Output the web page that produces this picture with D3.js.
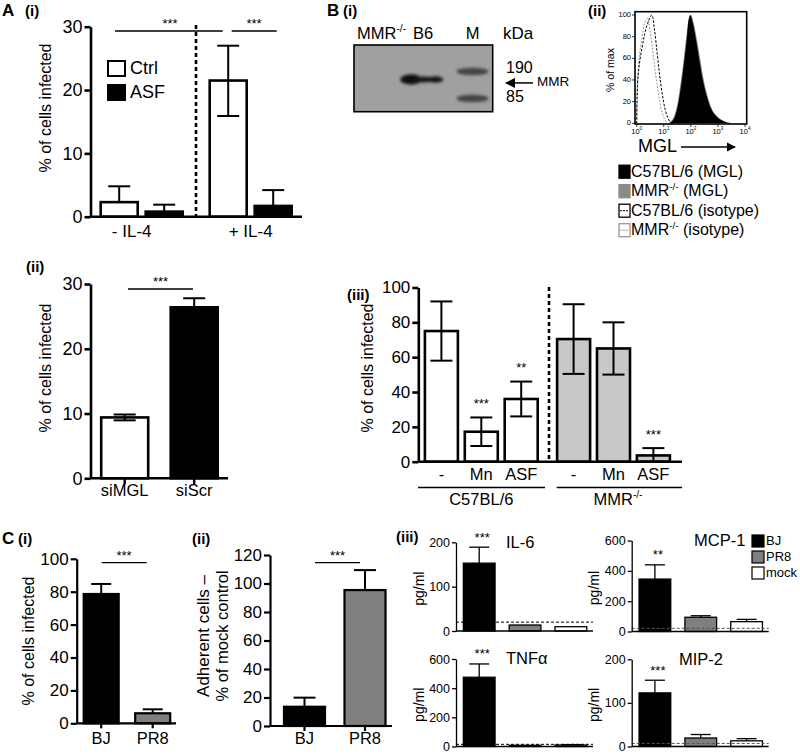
<!DOCTYPE html>
<html><head><meta charset="utf-8">
<script src="https://cdn.jsdelivr.net/npm/d3@7"></script>
<style>body{margin:0;background:#fff}svg{display:block}text{font-family:Arial,"Liberation Sans",sans-serif}</style>
</head><body><svg id="c" width="800" height="754"></svg>
<script>
// ================= DATA =================
// A(i)
const a1Groups = ["- IL-4", "+ IL-4"];
const a1Series = ["Ctrl", "ASF"];
const a1Ctrl = [2.3, 21.5];
const a1CtrlErrUp = [2.5, 5.5];
const a1CtrlErrDown = [0, 5.6];
const a1Asf = [0.8, 1.7];
const a1AsfErrUp = [1.1, 2.5];
const a1Ticks = [0, 10, 20, 30];
// A(ii)
const a2Cats = ["siMGL", "siScr"];
const a2Values = [9.4, 26.4];
const a2Err = [0.45, 1.4];
const a2Ticks = [0, 10, 20, 30];
// A(iii)
const a3Groups = ["C57BL/6", "MMR"];
const a3Treat = ["-", "Mn", "ASF"];
const a3C57 = [75, 17.2, 36];
const a3C57Err = [17, 8.2, 10];
const a3C57Stars = ["", "***", "**"];
const a3MMR = [70.4, 65, 3.6];
const a3MMRErr = [20, 15, 4.2];
const a3MMRStars = ["", "", "***"];
const a3Ticks = [0, 20, 40, 60, 80, 100];
// C(i)
const c1Cats = ["BJ", "PR8"];
const c1Values = [78.6, 6.1];
const c1Err = [6.1, 2.4];
const c1Ticks = [0, 20, 40, 60, 80, 100];
// C(ii)
const c2Cats = ["BJ", "PR8"];
const c2Values = [13.5, 95.4];
const c2Err = [6.4, 14];
const c2Ticks = [0, 20, 40, 60, 80, 100, 120];
// C(iii)
const c3Cats = ["BJ", "PR8", "mock"];
const il6 = [153, 13.5, 9.7], il6Err = [36, 0, 0], il6Limit = 20, il6Ticks = [0, 100, 200];
const tnf = [475, 8, 10], tnfErr = [91, 0, 3], tnfLimit = 15, tnfTicks = [0, 200, 400, 600];
const mcp1 = [346, 94, 65], mcp1Err = [94, 10, 15], mcp1Limit = 21, mcp1Ticks = [0, 200, 400, 600];
const mip2 = [123, 19.5, 13], mip2Err = [29, 8, 5], mip2Limit = 7, mip2Ticks = [0, 100, 200];
// B(i) blot
const blotLanes = ["MMR", "B6", "M"];
const markerKDa = [190, 85];
const mmrBandKDa = 150;
// B(ii) histograms: [log10 MGL, % of max]
const histB6MGL = [[1.2,0],[1.35,3],[1.48,12],[1.6,28],[1.73,52],[1.85,78],[1.93,97],[1.98,100],[2.08,92],[2.2,76],[2.33,56],[2.46,38],[2.6,24],[2.72,15],[2.85,9],[3.0,5],[3.15,2.5],[3.3,1],[3.5,0]];
const histMMRMGL = [[1.18,0],[1.33,4],[1.46,13],[1.58,30],[1.71,54],[1.83,80],[1.93,97],[2.0,100],[2.1,93],[2.22,78],[2.35,59],[2.47,41],[2.6,27],[2.72,17],[2.85,10],[3.0,6],[3.15,3],[3.35,1],[3.6,0]];
const histB6Iso = [[0,0],[0.03,35],[0.1,55],[0.2,70],[0.3,83],[0.4,92],[0.5,98],[0.56,100],[0.65,88],[0.75,66],[0.85,44],[0.95,26],[1.05,13],[1.15,5],[1.25,1],[1.35,0]];
const histMMRIso = [[0,0],[0.03,40],[0.1,62],[0.2,80],[0.3,93],[0.38,97],[0.45,92],[0.55,75],[0.65,55],[0.75,36],[0.85,20],[0.95,9],[1.05,3],[1.15,0]];
const bLegend = ["C57BL/6 (MGL)", "MMR (MGL)", "C57BL/6 (isotype)", "MMR (isotype)"];

// ================= HELPERS =================
const svg = d3.select("#c");
const defs = svg.append("defs");
defs.append("filter").attr("id","blur").append("feGaussianBlur").attr("stdDeviation",1.6);
defs.append("marker").attr("id","arr").attr("viewBox","0 0 10 10").attr("refX",9).attr("refY",5)
  .attr("markerWidth",7).attr("markerHeight",7).attr("orient","auto-start-reverse")
  .append("path").attr("d","M0,0L10,5L0,10z").attr("fill","#000");

function T(g, x, y, s, o = {}) {
  const t = g.append("text").attr("x", x).attr("y", y).text(s)
    .attr("font-size", o.size || 14).attr("text-anchor", o.anchor || "start")
    .attr("dominant-baseline", o.base || "middle").attr("fill", o.fill || "#000");
  if (o.bold) t.attr("font-weight", "bold");
  if (o.rotate) t.attr("transform", `rotate(-90,${x},${y})`);
  return t;
}
function supText(g, x, y, base, sup, rest, o = {}) {
  const fs = o.size || 14;
  const t = g.append("text").attr("x", x).attr("y", y).attr("font-size", fs)
    .attr("text-anchor", o.anchor || "start").attr("dominant-baseline", "middle");
  t.append("tspan").text(base);
  t.append("tspan").attr("dy", -fs * 0.35).attr("font-size", fs * 0.62).text(sup);
  if (rest) t.append("tspan").attr("dy", fs * 0.35).text(rest);
  return t;
}
function yAxis(scale, x, ticks, o) {
  const ax = d3.axisLeft(scale).tickValues(ticks).tickSize(o.tick || 6).tickSizeOuter(0).tickPadding(o.pad || 2);
  const g = svg.append("g").attr("transform", `translate(${x},0)`).call(ax);
  g.select(".domain").attr("stroke", "#000").attr("stroke-width", o.sw);
  g.selectAll(".tick line").attr("stroke", "#000").attr("stroke-width", o.sw);
  g.selectAll(".tick text").attr("font-size", o.fs).attr("font-family", 'Arial,"Liberation Sans",sans-serif').attr("fill", "#000");
  return g;
}
function hline(x1, x2, y, sw, o = {}) {
  const l = svg.append("line").attr("x1", x1).attr("x2", x2).attr("y1", y).attr("y2", y)
    .attr("stroke", o.color || "#000").attr("stroke-width", sw);
  if (o.dash) l.attr("stroke-dasharray", o.dash);
  return l;
}
function vline(x, y1, y2, sw, o = {}) {
  const l = svg.append("line").attr("x1", x).attr("x2", x).attr("y1", y1).attr("y2", y2)
    .attr("stroke", o.color || "#000").attr("stroke-width", sw);
  if (o.dash) l.attr("stroke-dasharray", o.dash);
  return l;
}
function bar(cx, w, y, v, fill, sw) {
  svg.append("rect").attr("x", cx - w / 2).attr("y", y(v)).attr("width", w).attr("height", y(0) - y(v))
    .attr("fill", fill).attr("stroke", "#000").attr("stroke-width", sw);
}
function err(cx, y, v, up, down, cap, sw) {
  if (up > 0) { vline(cx, y(v), y(v + up), sw); hline(cx - cap / 2, cx + cap / 2, y(v + up), sw); }
  if (down > 0) { vline(cx, y(v), y(v - down), sw); hline(cx - cap / 2, cx + cap / 2, y(v - down), sw); }
}

// ================= A(i) =================
T(svg, 2, 12, "A", {size: 17, bold: true});
T(svg, 25, 12, "(i)", {size: 15, bold: true});
{
  const y = d3.scaleLinear().domain([0, 30]).range([216.7, 26.7]);
  const gx = d3.scalePoint().domain(a1Groups).range([141.7, 250.7]);
  const sx = d3.scalePoint().domain(a1Series).range([-22.5, 22.5]);
  const w = 37;
  a1Groups.forEach((g, i) => {
    bar(gx(g) + sx("Ctrl"), w, y, a1Ctrl[i], "#fff", 2.6);
    bar(gx(g) + sx("ASF"), w, y, a1Asf[i], "#000", 2.6);
    err(gx(g) + sx("Ctrl"), y, a1Ctrl[i], a1CtrlErrUp[i], a1CtrlErrDown[i], 22, 2);
    err(gx(g) + sx("ASF"), y, a1Asf[i], a1AsfErrUp[i], 0, 22, 2);
    T(svg, gx(g) - 10 + i * 10, 233, g, {size: 17, anchor: "middle"});
  });
  yAxis(y, 90.5, a1Ticks, {sw: 2.6, fs: 18, tick: 6});
  hline(90.5, 302, y(0), 2.6);
  vline(196, 25, y(0), 2.6, {dash: "4,3"});
  T(svg, 47, 108, "% of cells infected", {size: 16, anchor: "middle", rotate: true});
  a1Series.forEach((s, i) => {
    const ly = 68.5 + i * 24;
    svg.append("rect").attr("x", 108).attr("y", ly - 7.5).attr("width", 17).attr("height", 15)
      .attr("fill", i ? "#000" : "#fff").attr("stroke", "#000").attr("stroke-width", 2);
    T(svg, 130, ly + 1, s, {size: 18});
  });
  hline(115, 222.7, 31, 1.3); T(svg, 170, 25, "***", {size: 13, anchor: "middle"});
  hline(231.7, 276.7, 31, 1.3); T(svg, 254, 25, "***", {size: 13, anchor: "middle"});
}

// ================= B(i) blot =================
T(svg, 327, 12, "B", {size: 17, bold: true});
T(svg, 343, 12, "(i)", {size: 15, bold: true});
{
  const lx = d3.scalePoint().domain(blotLanes).range([382, 472.5]);
  const ky = d3.scaleLog().domain([85, 190]).range([98.5, 71.5]);
  svg.append("rect").attr("x", 354).attr("y", 45).attr("width", 138.7).attr("height", 66.7)
    .attr("fill", "#a0a0a0").attr("stroke", "#000").attr("stroke-width", 1.6);
  const bg = svg.append("g").attr("filter", "url(#blur)");
  const by = ky(mmrBandKDa);
  bg.append("ellipse").attr("cx", lx("B6") - 16).attr("cy", by).attr("rx", 11).attr("ry", 5).attr("fill", "#080808");
  bg.append("ellipse").attr("cx", lx("B6") - 4).attr("cy", by).attr("rx", 10).attr("ry", 3).attr("fill", "#151515");
  bg.append("ellipse").attr("cx", lx("B6") + 8).attr("cy", by).attr("rx", 8).attr("ry", 3.2).attr("fill", "#151515");
  markerKDa.forEach(k => {
    bg.append("ellipse").attr("cx", lx("M")).attr("cy", ky(k)).attr("rx", 16).attr("ry", 3.8).attr("fill", "#444");
  });
  supText(svg, 357, 35, "MMR", "-/-", "", {size: 16.5});
  T(svg, 423, 35, "B6", {size: 16.5, anchor: "middle"});
  T(svg, lx("M"), 35, "M", {size: 16.5, anchor: "middle"});
  T(svg, 503, 35, "kDa", {size: 17});
  markerKDa.forEach(k => T(svg, 506, ky(k) - 3 + (k < 100 ? 2 : 0), String(k), {size: 16}));
  svg.append("line").attr("x1", 533).attr("x2", 506).attr("y1", by + 3.5).attr("y2", by + 3.5)
    .attr("stroke", "#000").attr("stroke-width", 1.5).attr("marker-end", "url(#arr)");
  T(svg, 537, by + 3.5, "MMR", {size: 13.5});
}

// ================= B(ii) histogram =================
T(svg, 588, 12, "(ii)", {size: 15, bold: true});
{
  const xs = d3.scaleLog().domain([1, 1e4]).range([636.7, 745]);
  const ys = d3.scaleLinear().domain([0, 100]).range([123.3, 15]);
  const area = d3.area().x(d => xs(Math.pow(10, d[0]))).y0(ys(0)).y1(d => ys(d[1])).curve(d3.curveCatmullRom);
  const line = d3.line().x(d => xs(Math.pow(10, d[0]))).y(d => ys(d[1])).curve(d3.curveCatmullRom);
  svg.append("path").attr("d", area(histMMRMGL)).attr("fill", "#8a8a8a");
  svg.append("path").attr("d", area(histB6MGL)).attr("fill", "#000");
  svg.append("path").attr("d", line(histMMRIso)).attr("fill", "none").attr("stroke", "#9a9a9a").attr("stroke-width", 1).attr("stroke-dasharray", "2,1.5");
  svg.append("path").attr("d", line(histB6Iso)).attr("fill", "none").attr("stroke", "#000").attr("stroke-width", 1).attr("stroke-dasharray", "2.5,1.5");
  svg.append("rect").attr("x", 635).attr("y", 11.7).attr("width", 111.7).attr("height", 112.3)
    .attr("fill", "none").attr("stroke", "#000").attr("stroke-width", 1.6);
  [0, 20, 40, 60, 80, 100].forEach(v => {
    hline(632, 635, ys(v), 0.8);
    T(svg, 631, ys(v), String(v), {size: 7.5, anchor: "end"});
  });
  [0, 1, 2, 3, 4].forEach(e => {
    vline(xs(Math.pow(10, e)), 124, 127, 0.8);
    supText(svg, xs(Math.pow(10, e)), 132, "10", String(e), "", {size: 7.5, anchor: "middle"});
  });
  T(svg, 611.7, 70, "% of max", {size: 10.5, anchor: "middle", rotate: true});
  T(svg, 638, 147, "MGL", {size: 18});
  svg.append("line").attr("x1", 681).attr("x2", 735).attr("y1", 147).attr("y2", 147)
    .attr("stroke", "#000").attr("stroke-width", 1.3).attr("marker-end", "url(#arr)");
  const lf = ["#000", "#8a8a8a", "#fff", "#fff"];
  const ls = ["#000", "#8a8a8a", "#000", "#999"];
  bLegend.forEach((s, i) => {
    const ly = 171.7 + i * 19.5;
    svg.append("rect").attr("x", 619).attr("y", ly - 6.5).attr("width", 11).attr("height", 13)
      .attr("fill", lf[i]).attr("stroke", ls[i]).attr("stroke-width", 1.3);
    if (i >= 2) hline(620, 629, ly, 1, {color: ls[i], dash: "2,1"});
    if (s.startsWith("MMR")) supText(svg, 631, ly + 1, "MMR", "-/-", s.slice(3), {size: 16});
    else T(svg, 631, ly + 1, s, {size: 16});
  });
}

// ================= A(ii) =================
T(svg, 26, 268, "(ii)", {size: 15, bold: true});
{
  const y = d3.scaleLinear().domain([0, 30]).range([478.3, 284]);
  const x = d3.scalePoint().domain(a2Cats).range([124.7, 194.2]);
  const fills = ["#fff", "#000"];
  a2Cats.forEach((c, i) => {
    bar(x(c), 47, y, a2Values[i], fills[i], 2.6);
    err(x(c), y, a2Values[i], a2Err[i], a2Err[i], 22, 2);
    vline(x(c), y(0), y(0) + 6, 2.4);
    T(svg, x(c), 492, c, {size: 16.5, anchor: "middle"});
  });
  yAxis(y, 90.5, a2Ticks, {sw: 2.6, fs: 18, tick: 6});
  hline(90.5, 228, y(0), 2.6);
  T(svg, 47, 368, "% of cells infected", {size: 16, anchor: "middle", rotate: true});
  hline(128, 193, 289, 1.3); T(svg, 160.5, 283, "***", {size: 13, anchor: "middle"});
}

// ================= A(iii) =================
T(svg, 347, 296, "(iii)", {size: 15, bold: true});
{
  const y = d3.scaleLinear().domain([0, 100]).range([461.7, 287.5]);
  const gx = d3.scalePoint().domain(a3Groups).range([481.3, 613.5]);
  const tx = d3.scalePoint().domain(a3Treat).range([-39.9, 39.9]);
  const w = 33;
  const vals = [a3C57, a3MMR], errs = [a3C57Err, a3MMRErr], stars = [a3C57Stars, a3MMRStars];
  const fills = ["#fff", "#c8c8c8"];
  a3Groups.forEach((g, gi) => {
    a3Treat.forEach((t, ti) => {
      const cx = gx(g) + tx(t);
      bar(cx, w, y, vals[gi][ti], fills[gi], 2.6);
      err(cx, y, vals[gi][ti], errs[gi][ti], Math.min(errs[gi][ti], vals[gi][ti]), 22, 2);
      if (stars[gi][ti]) T(svg, cx, y(vals[gi][ti] + errs[gi][ti]) - 13, stars[gi][ti], {size: 13, anchor: "middle"});
      T(svg, cx, 476, t, {size: 16.5, anchor: "middle"});
    });
  });
  yAxis(y, 418.3, a3Ticks, {sw: 2.6, fs: 17, tick: 6});
  hline(418.3, 682, y(0), 2.6);
  vline(549, 287, y(0), 2.6, {dash: "4,3"});
  T(svg, 369, 368, "% of cells infected", {size: 16, anchor: "middle", rotate: true});
  hline(418, 545, 487.5, 1.3);
  hline(556.7, 682, 487.5, 1.3);
  T(svg, gx("C57BL/6"), 501, "C57BL/6", {size: 16.5, anchor: "middle"});
  supText(svg, 618, 501, "MMR", "-/-", "", {size: 16.5, anchor: "middle"});
}

// ================= C(i) =================
T(svg, 2, 540, "C", {size: 17, bold: true});
T(svg, 18, 540, "(i)", {size: 15, bold: true});
{
  const y = d3.scaleLinear().domain([0, 100]).range([723.3, 558.8]);
  const x = d3.scalePoint().domain(c1Cats).range([101.2, 152.7]);
  const fills = ["#000", "#7f7f7f"];
  c1Cats.forEach((c, i) => {
    bar(x(c), 35, y, c1Values[i], fills[i], 2.2);
    err(x(c), y, c1Values[i], c1Err[i], 0, 20, 2);
    vline(x(c), y(0), y(0) + 5, 2.2);
    T(svg, x(c), 740, c, {size: 16.5, anchor: "middle"});
  });
  yAxis(y, 76.7, c1Ticks, {sw: 2.2, fs: 17, tick: 6});
  hline(76.7, 176, y(0), 2.2);
  T(svg, 30, 641, "% of cells infected", {size: 16, anchor: "middle", rotate: true});
  hline(101.7, 146.7, 562.7, 1.3); T(svg, 124, 557, "***", {size: 13, anchor: "middle"});
}

// ================= C(ii) =================
T(svg, 192, 540, "(ii)", {size: 15, bold: true});
{
  const y = d3.scaleLinear().domain([0, 120]).range([726, 555]);
  const x = d3.scalePoint().domain(c2Cats).range([304.5, 365]);
  const fills = ["#000", "#7f7f7f"];
  c2Cats.forEach((c, i) => {
    bar(x(c), 41, y, c2Values[i], fills[i], 2.2);
    err(x(c), y, c2Values[i], c2Err[i], 0, 22, 2);
    vline(x(c), y(0), y(0) + 5, 2.2);
    T(svg, x(c), 740, c, {size: 16.5, anchor: "middle"});
  });
  yAxis(y, 270, c2Ticks, {sw: 2.2, fs: 17, tick: 6});
  hline(270, 392, y(0), 2.2);
  T(svg, 205, 636, "Adherent cells \u2013", {size: 17, anchor: "middle", rotate: true});
  T(svg, 224, 636, "% of mock control", {size: 16.5, anchor: "middle", rotate: true});
  hline(315, 360, 562.7, 1.3); T(svg, 337.5, 557, "***", {size: 13, anchor: "middle"});
}

// ================= C(iii) =================
T(svg, 396, 538, "(iii)", {size: 15, bold: true});
function cytoPanel(ax, y0, yTop, maxV, ticks, vals, errs, limit, title, titleX, starTxt, limColor) {
  const y = d3.scaleLinear().domain([0, maxV]).range([y0, yTop]);
  const x = d3.scalePoint().domain(c3Cats).range([ax + 23.2, ax + 114.9]);
  const fills = ["#000", "#7f7f7f", "#fff"];
  c3Cats.forEach((c, i) => {
    bar(x(c), 31.7, y, vals[i], fills[i], 1.3);
    err(x(c), y, vals[i], errs[i], 0, 20, 1.3);
  });
  hline(ax, ax + 137, y(limit), 1, {dash: "3,2", color: limColor});
  yAxis(y, ax, ticks, {sw: 1.3, fs: 12.5, tick: 4, pad: 2});
  hline(ax, ax + 137, y(0), 1.3);
  T(svg, ax - 36, (y0 + yTop) / 2 + 2, "pg/ml", {size: 14, anchor: "middle", rotate: true});
  T(svg, titleX, yTop + 1, title, {size: 16.5});
  T(svg, x("BJ") + 3, y(vals[0] + errs[0]) - 9, starTxt, {size: 13, anchor: "middle"});
}
cytoPanel(456, 631, 542.3, 200, il6Ticks, il6, il6Err, il6Limit, "IL-6", 506, "***", "#000");
cytoPanel(456, 746.5, 659, 600, tnfTicks, tnf, tnfErr, tnfLimit, "TNF\u03b1", 506, "***", "#000");
cytoPanel(631.7, 631.5, 540.6, 600, mcp1Ticks, mcp1, mcp1Err, mcp1Limit, "MCP-1", 694, "**", "#555");
cytoPanel(631.7, 746.5, 659.3, 200, mip2Ticks, mip2, mip2Err, mip2Limit, "MIP-2", 679, "***", "#555");
{
  const fills = ["#000", "#7f7f7f", "#fff"];
  c3Cats.forEach((c, i) => {
    const ly = 541 + i * 16;
    svg.append("rect").attr("x", 752).attr("y", ly - 6).attr("width", 12).attr("height", 12)
      .attr("fill", fills[i]).attr("stroke", "#000").attr("stroke-width", 1.2);
    T(svg, 766, ly + 0.5, c, {size: 13});
  });
}
</script></body></html>
